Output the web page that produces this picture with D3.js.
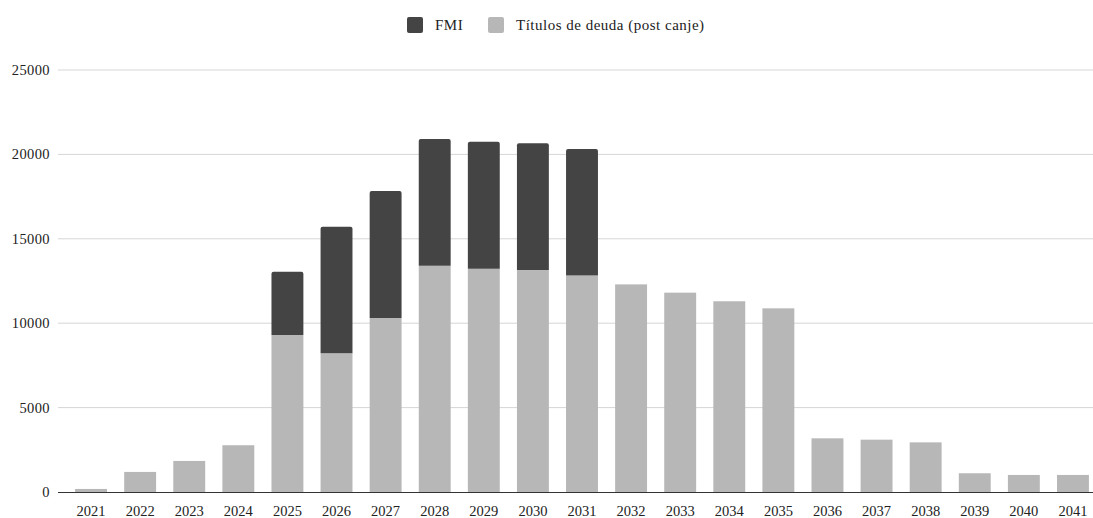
<!DOCTYPE html>
<html lang="es">
<head>
<meta charset="UTF-8">
<title>Vencimientos de deuda</title>
<script src="https://cdnjs.cloudflare.com/ajax/libs/d3/7.8.5/d3.min.js"></script>
<style>
  body { margin: 0; background: #fff; }
  svg { display: block; font-family: 'Liberation Serif', 'DejaVu Serif', serif; }
</style>
</head>
<body>
<div id="chart"></div>
<script>
// años de vencimiento
const years = ["2021","2022","2023","2024","2025","2026","2027","2028","2029","2030",
  "2031","2032","2033","2034","2035","2036","2037","2038","2039","2040","2041"];
// millones de USD
const titulos = [180, 1190, 1840, 2770, 9300, 8220, 10310, 13410, 13230, 13150,
  12820, 12300, 11810, 11300, 10880, 3180, 3100, 2940, 1110, 1010, 1010];
const fmi = [0, 0, 0, 0, 3750, 7500, 7520, 7500, 7520, 7510,
  7500, 0, 0, 0, 0, 0, 0, 0, 0, 0, 0];
const yTicks = [0, 5000, 10000, 15000, 20000, 25000];
const seriesNames = ["FMI", "Títulos de deuda (post canje)"];
const colors = { fmi: "#444444", titulos: "#b7b7b7" };

const W = 1093, H = 518;
const gridLeft = 58, gridRight = 1093;

const svg = d3.select("#chart").append("svg")
  .attr("width", W).attr("height", H);

const x = d3.scaleBand().domain(years).range([66.5, 1097.5]).paddingInner(0.35).paddingOuter(0.175);
const y = d3.scaleLinear().domain([0, 25000]).range([492, 70]);

// grilla
svg.append("g").selectAll("line")
  .data(yTicks.filter(d => d > 0))
  .join("line")
  .attr("x1", gridLeft).attr("x2", gridRight)
  .attr("y1", d => y(d)).attr("y2", d => y(d))
  .attr("stroke", "#d6d6d6").attr("stroke-width", 1);

// etiquetas eje y
svg.append("g").selectAll("text")
  .data(yTicks)
  .join("text")
  .attr("x", 50).attr("y", d => y(d))
  .attr("dy", "0.35em")
  .attr("text-anchor", "end")
  .attr("font-size", 14.5)
  .attr("letter-spacing", 0.4)
  .attr("fill", "#222")
  .text(d => d);

const rows = years.map((yr, i) => ({ year: yr, titulos: titulos[i], fmi: fmi[i] }));
const stacked = d3.stack().keys(["titulos", "fmi"])(rows);

stacked.forEach(layer => {
  const g = svg.append("g");
  layer.forEach(d => {
    const v = d[1] - d[0];
    if (v <= 0) return;
    const x0 = x(d.data.year), bw = x.bandwidth();
    const top = y(d[1]), bot = y(d[0]);
    if (layer.key === "fmi") {
      const r = 2;
      g.append("path")
        .attr("d", `M${x0},${bot}V${top + r}Q${x0},${top} ${x0 + r},${top}H${x0 + bw - r}Q${x0 + bw},${top} ${x0 + bw},${top + r}V${bot}Z`)
        .attr("fill", colors.fmi);
    } else {
      g.append("rect")
        .attr("x", x0).attr("y", top)
        .attr("width", bw).attr("height", bot - top)
        .attr("fill", colors.titulos);
    }
  });
});

// línea base
svg.append("line")
  .attr("x1", gridLeft).attr("x2", gridRight)
  .attr("y1", y(0) + 0.5).attr("y2", y(0) + 0.5)
  .attr("stroke", "#333").attr("stroke-width", 1);

// eje x
svg.append("g").selectAll("text")
  .data(years)
  .join("text")
  .attr("x", d => x(d) + x.bandwidth() / 2)
  .attr("y", 516)
  .attr("text-anchor", "middle")
  .attr("font-size", 14.5)
  .attr("fill", "#222")
  .text(d => d);

// leyenda
const legend = svg.append("g");
const items = [
  { name: seriesNames[0], color: colors.fmi, x: 407 },
  { name: seriesNames[1], color: colors.titulos, x: 488 }
];
items.forEach(it => {
  legend.append("rect")
    .attr("x", it.x).attr("y", 17).attr("width", 16).attr("height", 16)
    .attr("rx", 2).attr("fill", it.color);
  legend.append("text")
    .attr("x", it.x + 28).attr("y", 25).attr("dy", "0.35em")
    .attr("font-size", 15).attr("letter-spacing", 0.5)
    .attr("fill", "#222")
    .text(it.name);
});
</script>
</body>
</html>
